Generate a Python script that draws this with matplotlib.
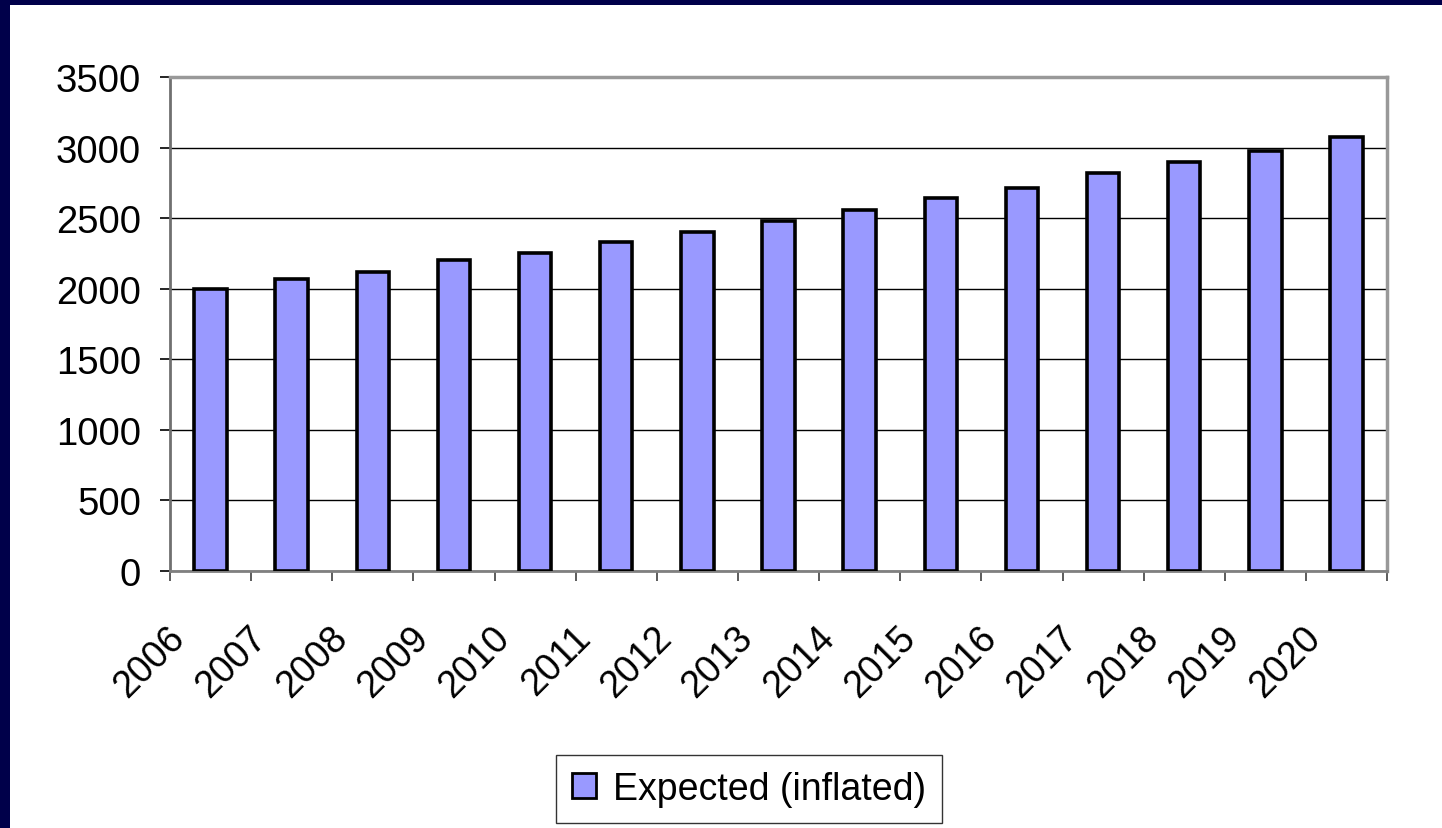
import matplotlib.pyplot as plt
from matplotlib.patches import Rectangle
from matplotlib.transforms import ScaledTranslation

years = ['2006', '2007', '2008', '2009', '2010', '2011', '2012', '2013',
         '2014', '2015', '2016', '2017', '2018', '2019', '2020']
expected = [2000, 2070, 2120, 2200, 2250, 2330, 2405, 2480,
            2560, 2640, 2715, 2820, 2895, 2975, 3075]
y_ticks = [0, 500, 1000, 1500, 2000, 2500, 3000, 3500]
series_name = 'Expected (inflated)'


def main():
    plt.rcParams['font.family'] = ['Liberation Sans', 'DejaVu Sans']
    fig = plt.figure(figsize=(14.42, 8.29), dpi=100)
    fig.patch.set_facecolor('white')

    # navy strips on the left and top edges
    fig.patches.append(Rectangle((0, 0), 10 / 1442, 1, transform=fig.transFigure,
                                 facecolor='#00004A', edgecolor='none', zorder=0))
    fig.patches.append(Rectangle((0, 1 - 6 / 829), 1, 6 / 829, transform=fig.transFigure,
                                 facecolor='#00004A', edgecolor='none', zorder=0))

    ax = fig.add_axes([0.1179, 0.310, 0.9619 - 0.1179, 0.9059 - 0.310])

    pos = list(range(len(years)))
    ax.bar(pos, expected, width=0.4, color='#9999FF', edgecolor='black',
           linewidth=2.6, label=series_name, zorder=3)

    ax.set_xlim(-0.5, len(years) - 0.5)
    ax.set_ylim(0, 3500)
    ax.set_yticks(y_ticks)
    ax.set_yticklabels([str(v) for v in y_ticks], fontsize=27.5)
    ax.yaxis.grid(True, color='black', linewidth=1.0, zorder=1)
    ax.set_axisbelow(True)

    # ticks at category boundaries, labels at centres
    ax.set_xticks([p - 0.5 for p in pos] + [len(years) - 0.5])
    ax.set_xticklabels([])
    ax.set_xticks(pos, minor=True)
    ax.set_xticklabels(years, minor=True, fontsize=27, rotation=45,
                       ha='right', va='center', rotation_mode='anchor')
    ax.tick_params(axis='x', which='major', direction='out', length=7,
                   width=1.2, color='#404040')
    ax.tick_params(axis='x', which='minor', length=0, pad=44)
    ax.tick_params(axis='y', direction='out', length=7, width=1.2,
                   color='black', pad=14)

    offset = ScaledTranslation(-0.31, 0, fig.dpi_scale_trans)
    for lbl in ax.get_xticklabels(minor=True):
        lbl.set_transform(lbl.get_transform() + offset)

    ax.spines['left'].set_color('#707070')
    ax.spines['left'].set_linewidth(2)
    ax.spines['bottom'].set_color('#808080')
    ax.spines['bottom'].set_linewidth(2)
    ax.spines['top'].set_color('#999999')
    ax.spines['top'].set_linewidth(2.5)
    ax.spines['right'].set_color('#999999')
    ax.spines['right'].set_linewidth(2.5)

    leg = fig.legend(loc='center', bbox_to_anchor=(0.5194, 0.047), fontsize=27,
                     frameon=True, fancybox=False, shadow=False,
                     handlelength=0.64, handleheight=0.64, handletextpad=0.45,
                     borderpad=0.42, borderaxespad=0)
    leg.get_frame().set_edgecolor('black')
    leg.get_frame().set_linewidth(1.0)
    for h in leg.legend_handles:
        h.set_linewidth(2.0)

    fig.savefig('out.png', dpi=100, facecolor=fig.get_facecolor())


if __name__ == '__main__':
    main()
